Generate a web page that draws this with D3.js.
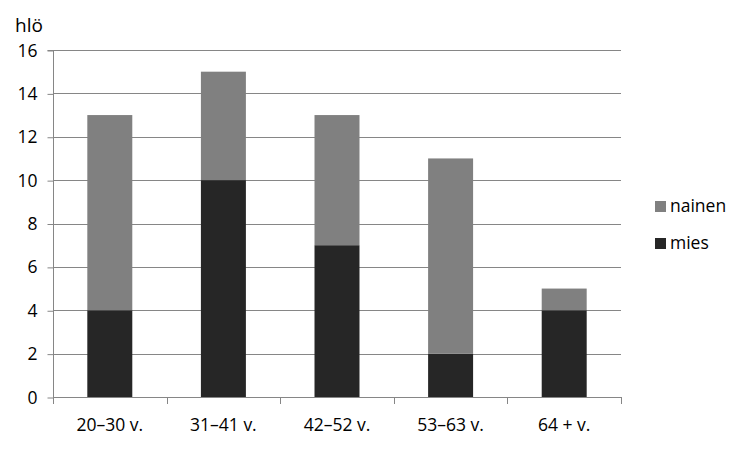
<!DOCTYPE html>
<html><head><meta charset="utf-8">
<script src="https://cdn.jsdelivr.net/npm/d3@7"></script>
<style>body{margin:0;background:#fff}svg{display:block}text{font-family:"Open Sans","Liberation Sans",sans-serif;fill:#000}</style>
</head><body>
<svg id="c" width="750" height="450"></svg>
<script>
const categories = ["20–30 v.", "31–41 v.", "42–52 v.", "53–63 v.", "64 + v."];
const mies = [4, 10, 7, 2, 4];
const nainen = [9, 5, 6, 9, 1];
const seriesNames = ["mies", "nainen"];
const yTicks = [0, 2, 4, 6, 8, 10, 12, 14, 16];
const colors = {mies: "#262626", nainen: "#808080"};

(function () {
const svg = d3.select("#c");
const pL = 53, pR = 621, pT = 50, pB = 397;
const x = d3.scaleBand().domain(categories).range([pL, pR]).paddingInner(0.604).paddingOuter(0.302);
const y = d3.scaleLinear().domain([0, 16]).range([pB, pT]);
const gridColor = "#868686";
const fs = 17.5;

// gridlines
svg.append("g").selectAll("line").data(yTicks.filter(d => d > 0)).join("line")
  .attr("x1", pL).attr("x2", pR).attr("y1", d => Math.round(y(d)) + 0.5).attr("y2", d => Math.round(y(d)) + 0.5)
  .attr("stroke", gridColor).attr("stroke-width", 1);

// stacked bars
const table = categories.map((c, i) => ({cat: c, mies: mies[i], nainen: nainen[i]}));
const stack = d3.stack().keys(seriesNames)(table);
svg.append("g").selectAll("g").data(stack).join("g").attr("fill", d => colors[d.key])
  .selectAll("rect").data(d => d).join("rect")
  .attr("x", d => x(d.data.cat)).attr("width", x.bandwidth())
  .attr("y", d => y(d[1])).attr("height", d => y(d[0]) - y(d[1]));

// y axis
const yAxis = svg.append("g").attr("transform", `translate(${pL + 0.5},0.5)`)
  .call(d3.axisLeft(y).tickValues(yTicks).tickSize(6).tickPadding(10).tickFormat(d3.format("d")));
yAxis.select(".domain").attr("stroke", gridColor).attr("d", `M-6,${pT}H0V${pB}`);
yAxis.selectAll(".tick line").attr("stroke", gridColor);
yAxis.selectAll("text").attr("font-size", fs).attr("font-family", "'Open Sans','Liberation Sans',sans-serif").attr("fill", "#000");

// x axis
const xg = svg.append("g");
xg.append("line").attr("x1", pL).attr("x2", pR).attr("y1", pB + 0.5).attr("y2", pB + 0.5).attr("stroke", gridColor);
const tickXs = [pL].concat(categories.slice(1).map(c => x(c) - (x.step() - x.bandwidth()) / 2)).concat([pR]);
xg.selectAll("line.t").data(tickXs)
  .join("line").attr("class", "t").attr("x1", d => Math.round(d) + 0.5).attr("x2", d => Math.round(d) + 0.5)
  .attr("y1", pB).attr("y2", pB + 7).attr("stroke", gridColor);
xg.selectAll("text").data(categories).join("text")
  .attr("x", d => x(d) + x.bandwidth() / 2).attr("y", 431).attr("text-anchor", "middle").attr("font-size", fs).text(d => d);

// y title
svg.append("text").attr("x", 15).attr("y", 32).attr("font-size", 19).text("hlö");

// legend
const legendItems = ["nainen", "mies"];
const lg = svg.append("g");
legendItems.forEach((k, i) => {
  const cy = 206 + i * 37;
  lg.append("rect").attr("x", 655).attr("y", cy - 5).attr("width", 11).attr("height", 11).attr("fill", colors[k]);
  lg.append("text").attr("x", 670).attr("y", cy + 6).attr("font-size", fs).text(k);
});
})();
</script>
</body></html>
